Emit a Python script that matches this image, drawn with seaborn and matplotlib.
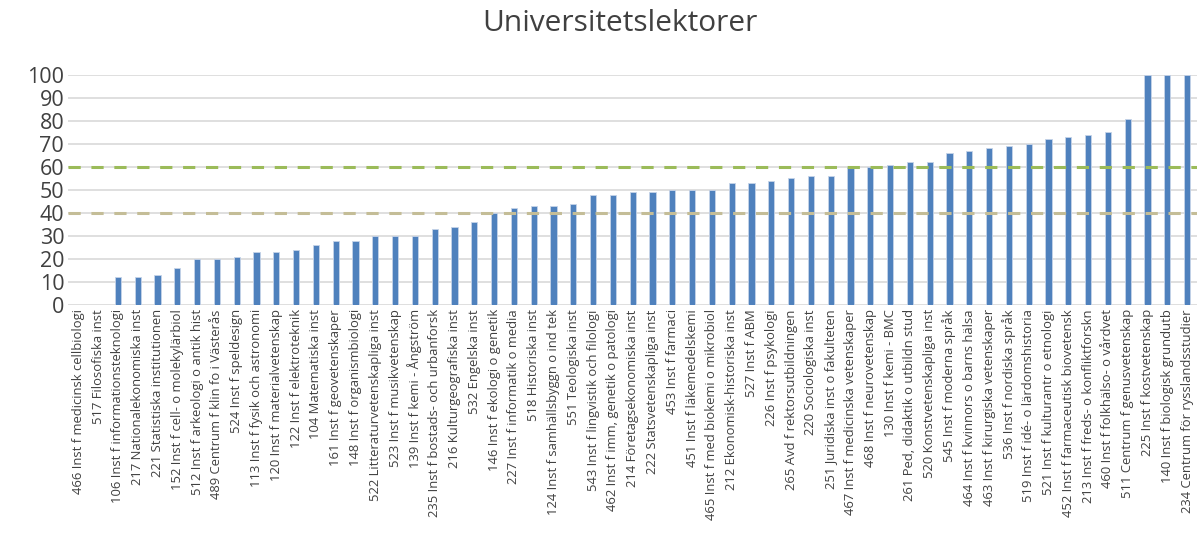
import pandas as pd
import numpy as np
import matplotlib.pyplot as plt
import seaborn as sns

# data
labels = [
    "466 Inst f medicinsk cellbiologi", "517 Filosofiska inst",
    "106 Inst f informationsteknologi", "217 Nationalekonomiska inst",
    "221 Statistiska institutionen", "152 Inst f cell- o molekylärbiol",
    "512 Inst f arkeologi o antik hist", "489 Centrum f klin fo i Västerås",
    "524 Inst f speldesign", "113 Inst f fysik och astronomi",
    "120 Inst f materialvetenskap", "122 Inst f elektroteknik",
    "104 Matematiska inst", "161 Inst f geovetenskaper",
    "148 Inst f organismbiologi", "522 Litteraturvetenskapliga inst",
    "523 Inst f musikvetenskap", "139 Inst f kemi - Ångström",
    "235 Inst f bostads- och urbanforsk", "216 Kulturgeografiska inst",
    "532 Engelska inst", "146 Inst f ekologi o genetik",
    "227 Inst f informatik o media", "518 Historiska inst",
    "124 Inst f samhällsbyggn o ind tek", "551 Teologiska inst",
    "543 Inst f lingvistik och filologi", "462 Inst f imm, genetik o patologi",
    "214 Företagsekonomiska inst", "222 Statsvetenskapliga inst",
    "453 Inst f farmaci", "451 Inst f läkemedelskemi",
    "465 Inst f med biokemi o mikrobiol", "212 Ekonomisk-historiska inst",
    "527 Inst f ABM", "226 Inst f psykologi",
    "265 Avd f rektorsutbildningen", "220 Sociologiska inst",
    "251 Juridiska inst o fakulteten", "467 Inst f medicinska vetenskaper",
    "468 Inst f neurovetenskap", "130 Inst f kemi - BMC",
    "261 Ped, didaktik o utbildn stud", "520 Konstvetenskapliga inst",
    "545 Inst f moderna språk", "464 Inst f kvinnors o barns hälsa",
    "463 Inst f kirurgiska vetenskaper", "536 Inst f nordiska språk",
    "519 Inst f idé- o lärdomshistoria", "521 Inst f kulturantr o etnologi",
    "452 Inst f farmaceutisk biovetensk", "213 Inst f freds- o konfliktforskn",
    "460 Inst f folkhälso- o vårdvet", "511 Centrum f genusvetenskap",
    "225 Inst f kostvetenskap", "140 Inst f biologisk grundutb",
    "234 Centrum för rysslandsstudier",
]
values = [0, 0, 12, 12, 13, 16, 20, 20, 21, 23, 23, 24, 26, 28, 28, 30, 30, 30,
          33, 34, 36, 40, 42, 43, 43, 44, 48, 48, 49, 49, 50, 50, 50, 53, 53, 54,
          55, 56, 56, 60, 60, 61, 62, 62, 66, 67, 68, 69, 70, 72, 73, 74, 75, 81,
          100, 100, 100]
ref_lines = [40, 60]
ticks = list(range(0, 101, 10))

df = pd.DataFrame({"inst": labels, "andel": values})

sns.set_style("white")
plt.rcParams['font.family'] = ['Open Sans', 'DejaVu Sans']

fig = plt.figure(figsize=(12, 5.38), dpi=100)
ax = fig.add_axes([0.057, 0.433, 0.9405, 0.428])

for t in ticks:
    ax.axhline(t, color='#d9d9d9', lw=1.2, zorder=0)

sns.barplot(data=df, x="inst", y="andel", color='#4f81bd', width=0.32,
            saturation=1, edgecolor='#c6d4e8', linewidth=0.6, ax=ax, zorder=2)

ax.axhline(ref_lines[0], color='#c4bd97', lw=2.2, ls=(0, (4, 3.5)), zorder=3)
ax.axhline(ref_lines[1], color='#9bbb59', lw=2.2, ls=(0, (4, 3.5)), zorder=3)

ax.set_ylim(0, 100)
ax.set_xlim(-0.5, len(labels) - 0.5)
ax.set_yticks(ticks)
ax.set_yticklabels([str(t) for t in ticks], fontsize=15.5, color='#404040')
ax.set_xticks(range(len(labels)))
ax.set_xticklabels(labels, rotation=90, fontsize=9.4, color='#404040')
ax.tick_params(axis='both', length=0, pad=3)
ax.set_xlabel("")
ax.set_ylabel("")
sns.despine(ax=ax, left=True, bottom=True)

fig.text(0.517, 0.957, "Universitetslektorer", ha='center', va='center',
         fontsize=21.5, color='#404040')

fig.savefig("out.png", dpi=100)
